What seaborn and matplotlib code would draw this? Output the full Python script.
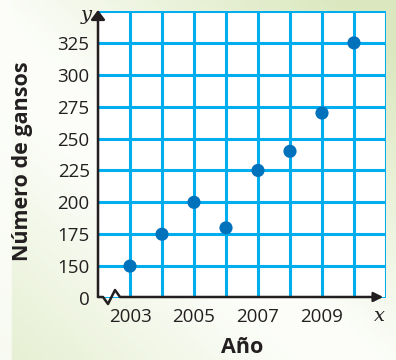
import numpy as np
import pandas as pd
import matplotlib
matplotlib.use('Agg')
import matplotlib.pyplot as plt
import seaborn as sns

# datos
anios = [2003, 2004, 2005, 2006, 2007, 2008, 2009, 2010]
gansos = [150, 175, 200, 180, 225, 240, 270, 325]
y_ticks = [150, 175, 200, 225, 250, 275, 300, 325]
x_labels = ['2003', '2005', '2007', '2009']

dados = pd.DataFrame({'Año': anios, 'Gansos': gansos})

sns.set_style('white')
plt.rcParams['font.family'] = ['Open Sans', 'DejaVu Sans']

fig = plt.figure(figsize=(3.96, 3.6), dpi=100)

# fondo con degradado verde claro
bg = fig.add_axes([0, 0, 1, 1], zorder=-10)
gx, gy = np.meshgrid(np.linspace(0, 1, 200), np.linspace(0, 1, 200))
g = np.maximum((gx - 0.5) + (gy - 0.45), 0.8 * ((0.6 - gx) + (0.55 - gy)) - 0.3)
g = np.where(gx < 0.03, g * 0.2, g)
c0 = np.array([0.99, 0.995, 0.98])
c1 = np.array([0.86, 0.91, 0.75])
img = c0 + (c1 - c0) * (g[..., None] / 0.9).clip(0, 1)
bg.imshow(img, extent=[0, 1, 0, 1], origin='lower', aspect='auto')
bg.axis('off')

W, H = 396, 360
x0, x1, y0, y1 = 98, 386, 298, 11
ax = fig.add_axes([x0 / W, (H - y0) / H, (x1 - x0) / W, (y0 - y1) / H])
ax.set_facecolor('white')

ax.set_xlim(2002, 2011)
ax.set_ylim(125, 350)

ax.set_xticks(range(2003, 2012))
ax.set_xticklabels([str(a) if str(a) in x_labels else '' for a in range(2003, 2012)])
ax.set_yticks([125] + y_ticks + [350])
ax.set_yticklabels(['0'] + [str(v) for v in y_ticks] + [''])
ax.grid(True, color='#00aeef', lw=2.2)
ax.set_axisbelow(True)
for s in ax.spines.values():
    s.set_visible(False)
ax.tick_params(length=0, labelsize=13.5, colors='#231f20')
ax.tick_params(axis='y', pad=6)
ax.tick_params(axis='x', pad=7)

sns.scatterplot(data=dados, x='Año', y='Gansos', ax=ax, color='#0072bc',
                s=90, edgecolor='none', zorder=5)

ax.set_xlabel('Año', fontsize=15.5, fontweight='bold', color='#231f20', labelpad=8)
ax.set_ylabel('Número de gansos', fontsize=15.5, fontweight='bold', color='#231f20')
ax.yaxis.set_label_coords((33 - x0) / (x1 - x0), (y0 - 161) / (y0 - y1))

# ejes con flechas y corte
def px(x, y):
    return ((x - x0) / (x1 - x0), (y0 - y) / (y0 - y1))

zig = [px(98, 297), px(103, 297), px(108, 304), px(115, 290), px(120, 297), px(370, 297)]
ax.plot([p[0] for p in zig], [p[1] for p in zig], color='#231f20', lw=1.8,
        transform=ax.transAxes, clip_on=False, zorder=6)
ax.annotate('', xy=px(386, 297), xytext=px(368, 297), xycoords='axes fraction',
            arrowprops=dict(arrowstyle='-|>', color='#231f20', lw=1.8,
                            mutation_scale=14), zorder=7)
ax.annotate('', xy=px(98, 10), xytext=px(98, 297), xycoords='axes fraction',
            arrowprops=dict(arrowstyle='-|>,head_width=0.3', color='#231f20', lw=1.8,
                            mutation_scale=14, shrinkA=0, shrinkB=0), zorder=7)

ax.text(*px(86, 15), 'y', transform=ax.transAxes, ha='center', va='center',
        fontsize=14, fontstyle='italic', family='DejaVu Serif', color='#231f20')
ax.text(*px(379, 316), 'x', transform=ax.transAxes, ha='center', va='center',
        fontsize=14, fontstyle='italic', family='DejaVu Serif', color='#231f20')

plt.savefig('out.png', dpi=100)
